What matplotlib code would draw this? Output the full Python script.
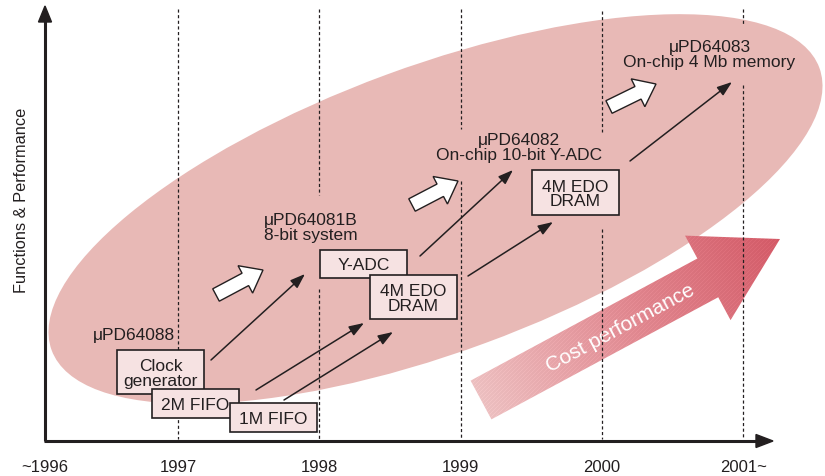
import numpy as np
import matplotlib
matplotlib.use("Agg")
import matplotlib.pyplot as plt
from matplotlib.patches import Ellipse, Rectangle, FancyArrow, Polygon
from matplotlib.colors import LinearSegmentedColormap

plt.rcParams['font.family'] = ['Liberation Sans', 'DejaVu Sans']

# ---------------- data ----------------
years = [1996, 1997, 1998, 1999, 2000, 2001]
year_labels = ['~1996', '1997', '1998', '1999', '2000', '2001~']
y_label = 'Functions & Performance'
products = ['\u03bcPD64088', '\u03bcPD64081B\n8-bit system',
            '\u03bcPD64082\nOn-chip 10-bit Y-ADC',
            '\u03bcPD64083\nOn-chip 4 Mb memory']
boxes = ['Clock\ngenerator', '2M FIFO', '1M FIFO', 'Y-ADC',
         '4M EDO\nDRAM', '4M EDO\nDRAM']
trend_label = 'Cost performance'

# ---------------- layout (pixel space) ----------------
W, H = 825, 477
X0, STEP = 178.0, 141.3          # x of 1997, pixels per year
AX_X, AX_Y = 45, 442             # axis origin
FS = 12.5

def yx(year):
    return X0 + (year - 1997) * STEP

fig = plt.figure(figsize=(W / 100, H / 100), dpi=100)
ax = fig.add_axes([0, 0, 1, 1])
ax.set_xlim(0, W)
ax.set_ylim(H, 0)
ax.axis('off')

ink = '#231f20'

# big ellipse
ax.add_patch(Ellipse((435.5, 210), 818, 286, angle=-20.2,
                     facecolor='#e8b9b6', edgecolor='none', zorder=1))

# cost performance arrow with gradient
tail = np.array([481.0, 401.0])
tip = np.array([780.0, 240.0])
d = tip - tail
L = np.hypot(*d)
u = d / L
n = np.array([-u[1], u[0]])
shaft_w, head_w, head_l = 44, 96, 82
base = tip - u * head_l
pts = [tail + n * shaft_w / 2, base + n * shaft_w / 2, base + n * head_w / 2,
       tip, base - n * head_w / 2, base - n * shaft_w / 2, tail - n * shaft_w / 2]
poly = Polygon(pts, closed=True, facecolor='none', edgecolor='none', zorder=2)
ax.add_patch(poly)
gx, gy = np.meshgrid(np.arange(400, 800), np.arange(200, 440))
t = ((gx - tail[0]) * u[0] + (gy - tail[1]) * u[1]) / L
t = np.clip(t, 0, 1)
tex = 0.06 * (((gx + gy) % 4) < 1)
cmap = LinearSegmentedColormap.from_list('cp', ['#ecbfc0', '#e08890', '#d35a67'])
rgba = cmap(t)
rgba[..., :3] = np.clip(rgba[..., :3] + tex[..., None] * 0.5, 0, 1)
im = ax.imshow(rgba, extent=(400, 800, 440, 200), origin='upper',
               zorder=2, interpolation='nearest')
im.set_clip_path(poly)
ang = np.degrees(np.arctan2(-d[1], d[0]))
ax.text(620, 328, trend_label, rotation=ang, rotation_mode='anchor',
        ha='center', va='center', color='white', fontsize=15, zorder=3)

# dashed year lines (with gaps where labels sit)
dash_segments = {
    1997: [(10, 440)],
    1998: [(10, 196), (290, 440)],
    1999: [(10, 130), (182, 440)],
    2000: [(12, 133), (230, 440)],
    2001: [(10, 26), (86, 440)],
}
for yr, segs in dash_segments.items():
    for y0, y1 in segs:
        ax.plot([yx(yr), yx(yr)], [y0, y1], color=ink, lw=0.9,
                ls=(0, (2.5, 2)), zorder=4)

# axes
ax.plot([AX_X, AX_X], [AX_Y, 22], color=ink, lw=2.2, zorder=6,
        solid_capstyle='butt')
ax.add_patch(Polygon([[AX_X - 6.5, 23], [AX_X + 6.5, 23], [AX_X, 7]],
                     closed=True, color=ink, zorder=6))
ax.plot([AX_X - 1, 757], [AX_Y, AX_Y], color=ink, lw=2.2, zorder=6,
        solid_capstyle='butt')
ax.add_patch(Polygon([[756, AX_Y - 6.5], [756, AX_Y + 6.5], [773, AX_Y]],
                     closed=True, color=ink, zorder=6))

for yr, lab in zip(years, year_labels):
    x = yx(yr) if yr != 1996 else AX_X
    ax.text(x, 468, lab, ha='center', va='center', fontsize=12, color=ink)

ax.text(22, 200, y_label, rotation=90, ha='center', va='center',
        fontsize=11.8, color=ink)

# product labels
ax.text(93, 336, products[0], ha='left', va='center', fontsize=FS, color=ink, zorder=5)
ax.text(264, 228, products[1], ha='left', va='center', fontsize=FS, color=ink,
        zorder=5, linespacing=0.95)
ax.text(519, 148, products[2], ha='center', va='center', fontsize=FS, color=ink,
        zorder=5, linespacing=0.95)
ax.text(709.5, 55, products[3], ha='center', va='center', fontsize=FS, color=ink,
        zorder=5, linespacing=0.95)

# boxes: (x0, y0, x1, y1)
box_pos = [(117, 351, 204, 395), (152, 390, 239, 419), (230, 404, 317, 433),
           (320, 251, 407, 279), (370, 276, 457, 320), (532, 171, 619, 216)]
for i, (txt, (x0, y0, x1, y1)) in enumerate(zip(boxes, box_pos)):
    ax.add_patch(Rectangle((x0, y0), x1 - x0, y1 - y0, facecolor='#f6e2e2',
                           edgecolor=ink, lw=1.2, zorder=7 + i * 0.1))
    ax.text((x0 + x1) / 2, (y0 + y1) / 2 + 1, txt, ha='center', va='center',
            fontsize=FS, color=ink, linespacing=0.98, zorder=7.05 + i * 0.1)

# thin arrows (start, end)
thin = [((211, 361), (305, 275)), ((256, 391), (364, 324)),
        ((284, 401), (393, 333)), ((420, 257), (513, 171)),
        ((468, 277), (553, 223)), ((630, 162), (732, 83))]
for (sx, sy), (ex, ey) in thin:
    ax.annotate('', xy=(ex, ey), xytext=(sx, sy),
                arrowprops=dict(arrowstyle='-|>,head_length=0.9,head_width=0.32',
                                color=ink, lw=1.1, shrinkA=0, shrinkB=0),
                zorder=8)

# white block arrows (tail center, tip)
blocks = [((216, 296), (263, 271)), ((412, 206), (458, 182)),
          ((609, 108), (656, 85))]
for (sx, sy), (ex, ey) in blocks:
    ax.add_patch(FancyArrow(sx, sy, ex - sx, ey - sy, width=14, head_width=31,
                            head_length=20, length_includes_head=True,
                            facecolor='white', edgecolor=ink, lw=1.0, zorder=8))

fig.savefig('out.png', dpi=100)
